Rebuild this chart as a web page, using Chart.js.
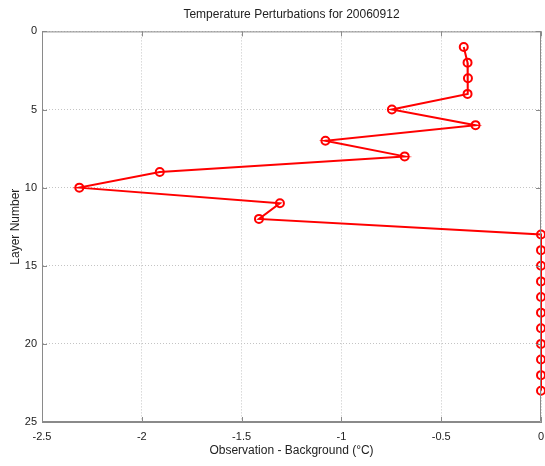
<!DOCTYPE html>
<html>
<head>
<meta charset="utf-8">
<script src="https://cdn.jsdelivr.net/npm/chart.js@4/dist/chart.umd.min.js"></script>
<style>
html,body{margin:0;padding:0;background:#fff}
#wrap{width:545px;height:466px;position:relative}
</style>
</head>
<body>
<div id="wrap"><canvas id="ch1" width="545" height="466"></canvas></div>
<script>
// layer-by-layer obs minus background (deg C)
const layers = [1,2,3,4,5,6,7,8,9,10,11,12,13,14,15,16,17,18,19,20,21,22,23];
const omb = [-0.387,-0.368,-0.366,-0.368,-0.747,-0.328,-1.08,-0.683,-1.91,-2.313,-1.308,-1.413,
             0,0,0,0,0,0,0,0,0,0,0];
const xTicks = [-2.5,-2,-1.5,-1,-0.5,0];
const yTicks = [0,5,10,15,20,25];

const FONT = '"Liberation Sans", Arial, sans-serif';
const TXT = '#222';
const BOX = '#8a8a8a';
const GRID = '#c4c4c4';

// matlab-ish frame: top/right edges + inward tick marks on all four sides
const frame = {
  id:'frame',
  afterDatasetsDraw(c){
    const {ctx, chartArea:a, scales:{x, y}} = c;
    ctx.save();
    ctx.strokeStyle = BOX;
    ctx.lineWidth = 1;
    ctx.setLineDash([]);
    ctx.beginPath();
    ctx.rect(a.left+0.5, a.top+0.5, a.right-a.left-1, a.bottom-a.top-1);
    const L = 5;
    x.ticks.forEach((t,i)=>{
      const px = Math.round(x.getPixelForTick(i))+0.5;
      ctx.moveTo(px, a.bottom); ctx.lineTo(px, a.bottom-L);
      ctx.moveTo(px, a.top); ctx.lineTo(px, a.top+L);
    });
    y.ticks.forEach((t,i)=>{
      const py = Math.round(y.getPixelForTick(i))+0.5;
      ctx.moveTo(a.left, py); ctx.lineTo(a.left+L, py);
      ctx.moveTo(a.right, py); ctx.lineTo(a.right-L, py);
    });
    ctx.stroke();
    ctx.restore();
  }
};

new Chart(document.getElementById('ch1'), {
  type:'scatter',
  data:{
    datasets:[{
      data: layers.map((l,i)=>({x:omb[i], y:l})),
      showLine:true,
      borderColor:'#ff0000',
      backgroundColor:'rgba(0,0,0,0)',
      borderWidth:2,
      pointRadius:4,
      pointBorderWidth:2,
      pointBorderColor:'#ff0000',
      pointBackgroundColor:'rgba(0,0,0,0)',
      tension:0,
      clip:false
    }]
  },
  options:{
    responsive:false,
    animation:false,
    layout:{autoPadding:false,padding:{left:0,right:4,top:0,bottom:0}},
    plugins:{
      legend:{display:false},
      tooltip:{enabled:false},
      title:{
        display:true,
        text:'Temperature Perturbations for 20060912',
        color:TXT,
        fullSize:false,
        font:{family:FONT,size:12,weight:'normal'},
        padding:{top:7,bottom:10}
      }
    },
    scales:{
      x:{
        type:'linear',
        min:-2.5, max:0,
        afterBuildTicks:s=>{s.ticks = xTicks.map(v=>({value:v}));},
        afterFit:s=>{s.height = 44; s.paddingLeft = 0; s.paddingRight = 0;},
        ticks:{color:TXT,font:{family:FONT,size:11},padding:8,maxRotation:0,
          callback:v=>String(v)},
        grid:{color:GRID,drawTicks:false,lineWidth:1},
        border:{color:BOX,dash:[1,2]},
        title:{display:true,text:'Observation - Background (°C)',color:TXT,
          font:{family:FONT,size:12},padding:{top:2,bottom:8}}
      },
      y:{
        type:'linear',
        reverse:true,
        min:0, max:25,
        afterBuildTicks:s=>{s.ticks = yTicks.map(v=>({value:v}));},
        afterFit:s=>{s.width = 42; s.paddingTop = 0; s.paddingBottom = 0;},
        ticks:{color:TXT,font:{family:FONT,size:11},padding:5,
          callback:v=>String(v)},
        grid:{color:GRID,drawTicks:false,lineWidth:1},
        border:{color:BOX,dash:[1,2]},
        title:{display:true,text:'Layer Number',color:TXT,
          font:{family:FONT,size:12},padding:{top:8,bottom:0}}
      }
    }
  },
  plugins:[frame]
});
</script>
</body>
</html>
